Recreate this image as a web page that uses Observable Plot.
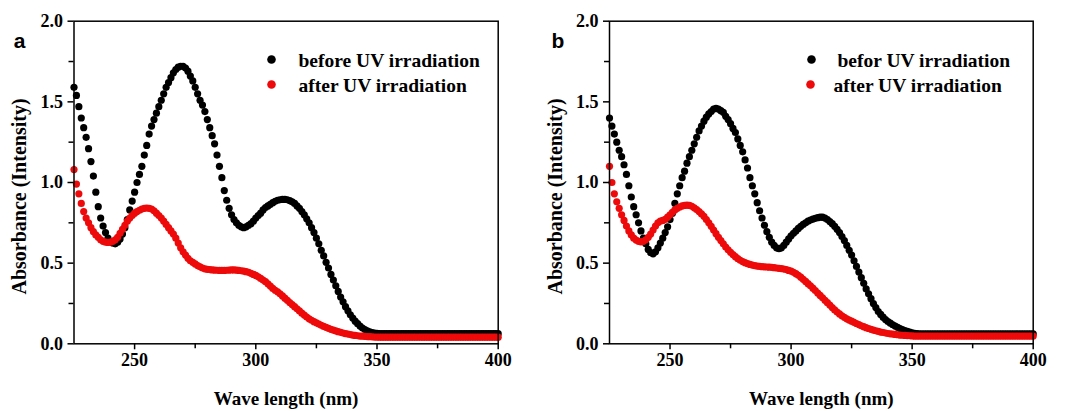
<!DOCTYPE html>
<html><head><meta charset="utf-8">
<script src="https://cdn.jsdelivr.net/npm/d3@7"></script>
<script src="https://cdn.jsdelivr.net/npm/@observablehq/plot@0.6"></script>
<style>
html,body{margin:0;padding:0;background:#fff;}
#wrap{position:relative;width:1069px;height:411px;overflow:hidden;background:#fff;}
#wrap > svg{position:absolute;top:0;}
</style></head><body><div id="wrap"></div>
<script>
// wavelength sampling, 1 nm steps
const wavelength = d3.range(225, 401);

// Panel a
const beforeA = [
1.59,1.54,1.47,1.40,1.34,1.28,1.21,1.13,1.04,0.94,
0.85,0.78,0.73,0.69,0.655,0.635,0.625,0.62,0.63,0.65,
0.68,0.72,0.77,0.83,0.885,0.94,1.00,1.05,1.10,1.17,
1.23,1.30,1.35,1.39,1.43,1.47,1.51,1.55,1.59,1.62,
1.65,1.68,1.70,1.715,1.72,1.72,1.71,1.69,1.66,1.63,
1.59,1.55,1.51,1.48,1.44,1.39,1.34,1.29,1.24,1.17,
1.10,1.03,0.95,0.89,0.84,0.80,0.77,0.75,0.735,0.725,
0.72,0.725,0.735,0.745,0.76,0.78,0.795,0.81,0.83,0.845,
0.855,0.865,0.875,0.883,0.89,0.893,0.895,0.895,0.893,0.888,
0.88,0.87,0.855,0.84,0.82,0.80,0.775,0.75,0.72,0.69,
0.655,0.62,0.58,0.545,0.505,0.47,0.43,0.395,0.36,0.325,
0.29,0.26,0.23,0.205,0.18,0.16,0.14,0.125,0.11,0.098,
0.088,0.08,0.074,0.07,0.067,0.065,0.064,0.063,0.063,0.063,
0.063,0.063,0.063,0.063,0.063,0.063,0.063,0.063,0.063,0.063,
0.063,0.063,0.063,0.063,0.063,0.063,0.063,0.063,0.063,0.063,
0.063,0.063,0.063,0.063,0.063,0.063,0.063,0.063,0.063,0.063,
0.063,0.063,0.063,0.063,0.063,0.063,0.063,0.063,0.063,0.063,
0.063,0.063,0.063,0.063,0.063,0.063
];
const afterA = [
1.08,0.99,0.93,0.87,0.82,0.78,0.75,0.72,0.695,0.675,
0.66,0.645,0.635,0.63,0.628,0.63,0.635,0.645,0.66,0.685,
0.71,0.735,0.76,0.78,0.795,0.81,0.82,0.828,0.835,0.84,
0.842,0.84,0.835,0.825,0.81,0.795,0.78,0.76,0.74,0.72,
0.70,0.68,0.655,0.625,0.595,0.57,0.55,0.53,0.515,0.505,
0.495,0.485,0.477,0.47,0.465,0.462,0.46,0.458,0.457,0.456,
0.455,0.455,0.455,0.456,0.457,0.458,0.458,0.457,0.455,0.453,
0.45,0.447,0.443,0.437,0.43,0.424,0.415,0.405,0.395,0.385,
0.372,0.358,0.343,0.332,0.322,0.31,0.297,0.283,0.27,0.256,
0.243,0.23,0.217,0.204,0.19,0.178,0.166,0.155,0.146,0.137,
0.13,0.122,0.115,0.108,0.102,0.096,0.09,0.085,0.08,0.075,
0.071,0.067,0.063,0.06,0.057,0.054,0.052,0.05,0.048,0.047,
0.046,0.045,0.044,0.043,0.042,0.042,0.041,0.041,0.041,0.041,
0.041,0.041,0.041,0.041,0.041,0.041,0.041,0.041,0.041,0.041,
0.041,0.041,0.041,0.041,0.041,0.041,0.041,0.041,0.041,0.041,
0.041,0.041,0.041,0.041,0.041,0.041,0.041,0.041,0.041,0.041,
0.041,0.041,0.041,0.041,0.041,0.041,0.041,0.041,0.041,0.041,
0.041,0.041,0.041,0.041,0.041,0.041
];

// Panel b
const beforeB = [
1.40,1.35,1.30,1.25,1.20,1.16,1.11,1.05,0.98,0.91,
0.85,0.80,0.75,0.70,0.655,0.62,0.585,0.565,0.558,0.57,
0.595,0.625,0.655,0.69,0.725,0.77,0.81,0.87,0.93,0.98,
1.03,1.07,1.12,1.16,1.20,1.24,1.28,1.32,1.35,1.38,
1.405,1.425,1.44,1.455,1.46,1.455,1.445,1.435,1.41,1.39,
1.365,1.335,1.31,1.27,1.23,1.19,1.14,1.09,1.03,0.98,
0.93,0.875,0.825,0.78,0.735,0.695,0.66,0.63,0.61,0.595,
0.59,0.595,0.61,0.63,0.65,0.67,0.685,0.70,0.715,0.728,
0.74,0.75,0.76,0.767,0.773,0.778,0.782,0.785,0.785,0.78,
0.77,0.758,0.745,0.728,0.71,0.69,0.665,0.64,0.61,0.58,
0.55,0.515,0.48,0.445,0.41,0.375,0.34,0.31,0.28,0.25,
0.225,0.20,0.182,0.165,0.15,0.138,0.128,0.118,0.11,0.102,
0.095,0.088,0.082,0.077,0.072,0.068,0.065,0.063,0.062,0.062,
0.062,0.062,0.062,0.062,0.062,0.062,0.062,0.062,0.062,0.062,
0.062,0.062,0.062,0.062,0.062,0.062,0.062,0.062,0.062,0.062,
0.062,0.062,0.062,0.062,0.062,0.062,0.062,0.062,0.062,0.062,
0.062,0.062,0.062,0.062,0.062,0.062,0.062,0.062,0.062,0.062,
0.062,0.062,0.062,0.062,0.062,0.062
];
const afterB = [
1.10,1.00,0.93,0.88,0.84,0.80,0.765,0.73,0.70,0.675,
0.655,0.643,0.635,0.632,0.635,0.645,0.66,0.68,0.705,0.73,
0.75,0.76,0.765,0.772,0.785,0.80,0.815,0.83,0.84,0.848,
0.855,0.858,0.86,0.858,0.852,0.843,0.832,0.82,0.805,0.79,
0.77,0.75,0.728,0.705,0.683,0.66,0.64,0.62,0.60,0.583,
0.567,0.553,0.54,0.528,0.518,0.51,0.503,0.497,0.492,0.488,
0.485,0.482,0.48,0.478,0.477,0.476,0.475,0.474,0.472,0.47,
0.468,0.466,0.463,0.46,0.455,0.45,0.443,0.435,0.425,0.413,
0.40,0.387,0.373,0.36,0.345,0.33,0.315,0.30,0.285,0.27,
0.255,0.24,0.225,0.21,0.197,0.185,0.174,0.164,0.155,0.147,
0.14,0.133,0.126,0.119,0.112,0.106,0.10,0.095,0.09,0.085,
0.081,0.077,0.073,0.07,0.067,0.064,0.062,0.06,0.058,0.056,
0.054,0.053,0.052,0.051,0.05,0.049,0.048,0.048,0.048,0.048,
0.048,0.048,0.048,0.048,0.048,0.048,0.048,0.048,0.048,0.048,
0.048,0.048,0.048,0.048,0.048,0.048,0.048,0.048,0.048,0.048,
0.048,0.048,0.048,0.048,0.048,0.048,0.048,0.048,0.048,0.048,
0.048,0.048,0.048,0.048,0.048,0.048,0.048,0.048,0.048,0.048,
0.048,0.048,0.048,0.048,0.048,0.048
];

const xTicks = [250, 300, 350, 400];
const xMinorTicks = [275, 325, 375];
const yTicks = [0, 0.5, 1.0, 1.5, 2.0];
const yMinorTicks = [0.25, 0.75, 1.25, 1.75];
const legendA = ["before UV irradiation", "after UV irradiation"];
const legendB = ["befor UV irradiation", "after UV irradiation"];
const xLabel = "Wave length (nm)";
const yLabel = "Absorbance (Intensity)";

const RED = "#ee0a0a";
const SERIF = "'Liberation Serif', 'Times New Roman', serif";

function panel(before, after, letter, legend, L) {
  const pts = arr => arr.map((v, i) => ({x: wavelength[i], y: v}));
  return Plot.plot({
    width: L.width, height: 411,
    marginLeft: L.ml, marginRight: L.mr, marginTop: 20.7, marginBottom: 67.7,
    x: {domain: [225, 400]},
    y: {domain: [0, 2]},
    style: {fontFamily: SERIF, fontWeight: "bold", fontSize: "18px", color: "black", background: "white", overflow: "visible"},
    marks: [
      Plot.dot(pts(before), {x: "x", y: "y", r: 3.6, fill: "black"}),
      Plot.dot(pts(after), {x: "x", y: "y", r: 3.6, fill: RED}),
      Plot.frame({stroke: "black", strokeWidth: 1.5}),
      Plot.axisX({ticks: xTicks, tickSize: 6, tickPadding: 3, tickFormat: d3.format("d"), label: null, strokeWidth: 1.5}),
      Plot.axisX({ticks: xMinorTicks, tickSize: 5, tickFormat: () => "", label: null, strokeWidth: 1.5}),
      Plot.axisY({ticks: yTicks, tickSize: 6, tickPadding: 5, tickFormat: d3.format(".1f"), label: null, strokeWidth: 1.5}),
      Plot.axisY({ticks: yMinorTicks, tickSize: 5, tickFormat: () => "", label: null, strokeWidth: 1.5}),
      Plot.text([xLabel], {frameAnchor: "bottom", textAnchor: "middle", lineAnchor: "middle", dy: 55, fontSize: 19, fontFamily: SERIF, fontWeight: "bold"}),
      Plot.text([yLabel], {frameAnchor: "left", textAnchor: "middle", lineAnchor: "middle", rotate: -90, dx: -54, dy: 14, fontSize: 20, fontFamily: SERIF, fontWeight: "bold"}),
      Plot.text([letter], {frameAnchor: "top-left", textAnchor: "middle", lineAnchor: "middle", dx: L.letterDx, dy: 19.6, fontSize: 21, fontFamily: "'Liberation Sans', Arial, sans-serif", fontWeight: "bold"}),
      Plot.dot([legend[0]], {frameAnchor: "top-left", dx: L.dot1, dy: 38.3, r: 4.3, fill: "black"}),
      Plot.dot([legend[1]], {frameAnchor: "top-left", dx: L.dot2, dy: 63.3, r: 4.3, fill: RED}),
      Plot.text([legend[0]], {frameAnchor: "top-left", textAnchor: "start", lineAnchor: "middle", dx: L.txt1, dy: 39.3, fontSize: 19.5, fontFamily: SERIF, fontWeight: "bold"}),
      Plot.text([legend[1]], {frameAnchor: "top-left", textAnchor: "start", lineAnchor: "middle", dx: L.txt2, dy: 64.3, fontSize: 19.5, fontFamily: SERIF, fontWeight: "bold"})
    ]
  });
}

const wrap = document.getElementById("wrap");
const a = panel(beforeA, afterA, "a", legendA, {width: 535, ml: 73.5, mr: 37.3, letterDx: -54.5, dot1: 197.5, dot2: 197.5, txt1: 224.5, txt2: 224.5});
a.style.left = "0px";
wrap.appendChild(a);
const b = panel(beforeB, afterB, "b", legendB, {width: 534, ml: 74, mr: 36.3, letterDx: -51.5, dot1: 202, dot2: 201, txt1: 228, txt2: 224});
b.style.left = "535px";
wrap.appendChild(b);
</script></body></html>
